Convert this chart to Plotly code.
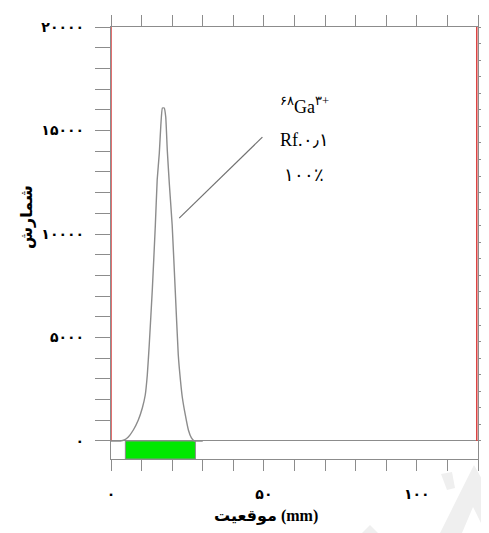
import plotly.graph_objects as go

# ---- data ----
pos_mm = [0, 3.0, 4.35, 5.66, 7.3, 8.93, 10.24, 11.2, 11.87, 12.5, 13.5, 14.5, 15.1,
          15.8, 16.3, 16.8, 17.4, 17.9, 18.4, 19.1, 20.0, 21.0, 22.0, 22.7, 23.3,
          24.3, 25.3, 26.3, 27.2, 30.0]
counts = [0, 0, 48, 193, 531, 1014, 1594, 2222, 3188, 4637, 7293, 10433, 12606,
          13910, 15263, 16085, 16085, 15650, 14055, 12365, 10433, 7293, 4154, 2946, 2125,
          1256, 531, 145, 0, 0]

front_lines = [0, 119.6]          # red origin / front markers (mm)
region = [4.7, 27.6]              # integrated region (green) (mm)
leader_x = [22.3, 49.5]
leader_y = [10770, 14680]

y_ticks = list(range(0, 20001, 1000))
y_labels = {0: "۰", 5000: "۵۰۰۰", 10000: "۱۰۰۰۰", 15000: "۱۵۰۰۰", 20000: "۲۰۰۰۰"}
x_ticks = list(range(0, 121, 10))
x_labels = {0: "۰", 50: "۵۰", 100: "۱۰۰"}
right_ticks = list(range(0, 20001, 800))

label_lines = ["<sup>۶۸</sup>Ga<sup>۳+</sup>", "Rf.۰٫۱", "۱۰۰٪"]
label_y = [16232, 14541, 12850]

x_title = "موقعیت (mm)"
y_title = "شمارش"

Y_MIN, Y_MAX = -870, 20000
X_MIN, X_MAX = 0, 120

GRAY = "#8c8c8c"
RED = "#d9403f"
GREEN = "#00e800"
WM = "#efefef"

# page geometry (pixels) used only for the faint watermark in paper space
L, R, T, B = 111, 478, 27, 459


def pp(px, py):
    return (px - L) / (R - L), (B - py) / (B - T)


def path(points):
    s = ""
    for i, (px, py) in enumerate(points):
        x, y = pp(px, py)
        s += ("M" if i == 0 else " L") + f" {x:.4f},{y:.4f}"
    return s + " Z"


fig = go.Figure()

# green region strip
fig.add_trace(go.Scatter(
    x=[region[0], region[1], region[1], region[0], region[0]],
    y=[Y_MIN, Y_MIN, 0, 0, Y_MIN],
    fill="toself", fillcolor=GREEN, mode="lines",
    line=dict(color=GRAY, width=1), hoverinfo="skip", showlegend=False))

# red front/origin lines
for fx in front_lines:
    fig.add_trace(go.Scatter(x=[fx, fx], y=[0, Y_MAX], mode="lines",
                             line=dict(color=RED, width=1.5),
                             hoverinfo="skip", showlegend=False))

# peak curve
fig.add_trace(go.Scatter(x=pos_mm, y=counts, mode="lines",
                         line=dict(color=GRAY, width=1.4, shape="spline", smoothing=0.4),
                         showlegend=False))

# leader line
fig.add_trace(go.Scatter(x=leader_x, y=leader_y, mode="lines",
                         line=dict(color="#707070", width=1.2), showlegend=False))

# right-side axis ticks
fig.add_trace(go.Scatter(x=[None], y=[None], yaxis="y2", showlegend=False))

for txt, yy in zip(label_lines, label_y):
    fig.add_annotation(x=63.2, y=yy, text=txt, showarrow=False,
                       font=dict(family="Liberation Serif, DejaVu Serif", size=18, color="black"))

fig.add_annotation(xref="paper", yref="paper", x=0.422, y=-0.132, text=x_title,
                   showarrow=False, xanchor="center", yanchor="middle",
                   font=dict(family="Liberation Serif, DejaVu Sans", size=16, color="black", weight="bold"))
fig.add_annotation(xref="paper", yref="paper", x=-0.229, y=0.56, text=y_title,
                   showarrow=False, textangle=-90, xanchor="center", yanchor="middle",
                   font=dict(family="Liberation Serif, DejaVu Sans", size=16, color="black", weight="bold"))

# faint watermark fragments
for pts in ([(440, 533), (474, 465), (489, 492), (489, 533), (486, 533), (473, 507), (462, 533)],
            [(441, 474), (452, 472), (455, 488), (447, 490)],
            [(362, 533), (370, 525), (378, 533)]):
    fig.add_shape(type="path", xref="paper", yref="paper", path=path(pts),
                  fillcolor=WM, line=dict(width=0), layer="below")

fig.update_layout(
    width=481, height=525,
    margin=dict(l=103, r=11, t=19, b=74, autoexpand=False),
    plot_bgcolor="rgba(0,0,0,0)", paper_bgcolor="white",
    xaxis=dict(range=[X_MIN, X_MAX], tickvals=x_ticks,
               ticktext=[x_labels.get(v, "") for v in x_ticks],
               ticks="outside", ticklen=11, tickcolor=GRAY, tickwidth=1.2,
               showline=True, linecolor=GRAY, linewidth=1.2, mirror="ticks",
               showgrid=False, zeroline=False, ticklabelstandoff=11,
               tickfont=dict(family="DejaVu Sans", size=14, color="black", weight="bold")),
    yaxis=dict(range=[Y_MIN, Y_MAX], tickvals=y_ticks,
               ticktext=[y_labels.get(v, "") for v in y_ticks],
               ticks="outside", ticklen=15, tickcolor=GRAY, tickwidth=1.2,
               showline=True, linecolor=GRAY, linewidth=1.2,
               showgrid=False, zeroline=True, zerolinecolor=GRAY, zerolinewidth=1.2,
               ticklabelstandoff=8,
               tickfont=dict(family="DejaVu Sans", size=14, color="black", weight="bold")),
    yaxis2=dict(range=[Y_MIN, Y_MAX], overlaying="y", side="right", tickvals=right_ticks,
                showticklabels=False, ticks="outside", ticklen=10, tickcolor=GRAY,
                showline=True, linecolor=GRAY, linewidth=1.2, showgrid=False, zeroline=False),
)

fig.write_html("out.html")
